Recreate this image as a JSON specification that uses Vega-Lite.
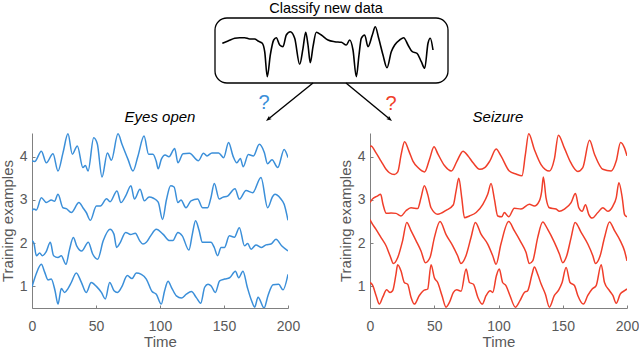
{
"$schema":"https://vega.github.io/schema/vega-lite/v6.json",
"padding":{"left":0,"top":0,"right":0,"bottom":0},
"config":{"view":{"stroke":null},"font":"Liberation Sans",
"axis":{"grid":false,"labelFlush":false,"domainColor":"#808080","tickColor":"#808080","tickSize":-3,"labelColor":"#595959","labelFont":"Liberation Sans","labelFontSize":14,"titleFont":"Liberation Sans","titleFontSize":15,"titleFontWeight":"normal","titleColor":"#595959"}},
"datasets":{
"sig":[{"x":224.3,"y":43.3},{"x":230,"y":41},{"x":236.7,"y":38.3},{"x":241.7,"y":37.7},{"x":246.7,"y":37.7},{"x":251.7,"y":39},{"x":256.7,"y":39},{"x":260,"y":41},{"x":264.3,"y":43.3},{"x":266.7,"y":51.7},{"x":269.3,"y":76.7},{"x":272.3,"y":55},{"x":275.7,"y":40},{"x":278.3,"y":37.7},{"x":281.7,"y":45},{"x":285,"y":46.7},{"x":288.3,"y":35},{"x":292.3,"y":31.7},{"x":296.7,"y":38.3},{"x":301.7,"y":64.3},{"x":305,"y":48.3},{"x":307.7,"y":32.3},{"x":310,"y":45},{"x":312.3,"y":62.7},{"x":315,"y":46.7},{"x":318.3,"y":32.3},{"x":323.3,"y":35},{"x":330,"y":40},{"x":336.7,"y":41.7},{"x":343.3,"y":42.3},{"x":348.3,"y":45},{"x":351.7,"y":40},{"x":355,"y":50},{"x":358.3,"y":76.7},{"x":361,"y":55},{"x":363.3,"y":38.3},{"x":366.7,"y":35},{"x":370,"y":46.7},{"x":374.3,"y":35},{"x":377.3,"y":26.7},{"x":380.7,"y":38.3},{"x":385,"y":55},{"x":389,"y":67.7},{"x":393.3,"y":51.7},{"x":396.7,"y":45},{"x":401.7,"y":40},{"x":405.7,"y":37.7},{"x":410,"y":45},{"x":414.3,"y":51.7},{"x":419,"y":53.3},{"x":423.3,"y":61.7},{"x":426.7,"y":68.3},{"x":430,"y":43.3},{"x":432.3,"y":38.3},{"x":435,"y":50}],
"eeg":[
{"p":"L","s":4,"t":0,"v":3.9},{"p":"L","s":4,"t":2.1,"v":3.89},{"p":"L","s":4,"t":7.3,"v":4.13},{"p":"L","s":4,"t":11.2,"v":3.86},{"p":"L","s":4,"t":16.4,"v":4.07},{"p":"L","s":4,"t":20.3,"v":3.67},{"p":"L","s":4,"t":24.2,"v":4.09},{"p":"L","s":4,"t":28.1,"v":4.53},{"p":"L","s":4,"t":31.5,"v":4.06},{"p":"L","s":4,"t":35.4,"v":4.25},{"p":"L","s":4,"t":39.8,"v":3.75},{"p":"L","s":4,"t":41.7,"v":3.8},{"p":"L","s":4,"t":43.8,"v":3.67},{"p":"L","s":4,"t":48.2,"v":4.44},{"p":"L","s":4,"t":51,"v":4.3},{"p":"L","s":4,"t":54.7,"v":3.53},{"p":"L","s":4,"t":58.9,"v":4.09},{"p":"L","s":4,"t":62,"v":3.92},{"p":"L","s":4,"t":67.2,"v":4.53},{"p":"L","s":4,"t":70.3,"v":4.29},{"p":"L","s":4,"t":75,"v":3.94},{"p":"L","s":4,"t":78.9,"v":3.67},{"p":"L","s":4,"t":82.8,"v":4.02},{"p":"L","s":4,"t":87.5,"v":4.48},{"p":"L","s":4,"t":91.1,"v":4.06},{"p":"L","s":4,"t":94.5,"v":4.06},{"p":"L","s":4,"t":97,"v":3.9},{"p":"L","s":4,"t":98.6,"v":3.72},{"p":"L","s":4,"t":101,"v":3.94},{"p":"L","s":4,"t":104,"v":4.04},{"p":"L","s":4,"t":107,"v":4.0},{"p":"L","s":4,"t":111.5,"v":4.19},{"p":"L","s":4,"t":114,"v":3.86},{"p":"L","s":4,"t":118,"v":4.07},{"p":"L","s":4,"t":123,"v":4.08},{"p":"L","s":4,"t":130,"v":3.91},{"p":"L","s":4,"t":134,"v":4.08},{"p":"L","s":4,"t":136.7,"v":4.02},{"p":"L","s":4,"t":140.6,"v":4.09},{"p":"L","s":4,"t":145.8,"v":4.09},{"p":"L","s":4,"t":149.7,"v":3.98},{"p":"L","s":4,"t":153.6,"v":4.33},{"p":"L","s":4,"t":157,"v":4.02},{"p":"L","s":4,"t":160,"v":3.86},{"p":"L","s":4,"t":162.8,"v":3.96},{"p":"L","s":4,"t":165,"v":3.77},{"p":"L","s":4,"t":169,"v":4.05},{"p":"L","s":4,"t":173,"v":4.02},{"p":"L","s":4,"t":177.6,"v":4.29},{"p":"L","s":4,"t":181.5,"v":4.1},{"p":"L","s":4,"t":184,"v":3.84},{"p":"L","s":4,"t":187.5,"v":3.93},{"p":"L","s":4,"t":192,"v":3.75},{"p":"L","s":4,"t":197,"v":4.17},{"p":"L","s":4,"t":200,"v":3.98},
{"p":"L","s":3,"t":0,"v":2.75},{"p":"L","s":3,"t":1.5,"v":2.79},{"p":"L","s":3,"t":3.4,"v":2.77},{"p":"L","s":3,"t":7.3,"v":3.05},{"p":"L","s":3,"t":11.2,"v":2.94},{"p":"L","s":3,"t":15.1,"v":3.0},{"p":"L","s":3,"t":17.6,"v":2.97},{"p":"L","s":3,"t":20.3,"v":3.13},{"p":"L","s":3,"t":24.2,"v":2.82},{"p":"L","s":3,"t":26.8,"v":2.8},{"p":"L","s":3,"t":30.7,"v":2.71},{"p":"L","s":3,"t":36.7,"v":2.94},{"p":"L","s":3,"t":39.8,"v":2.82},{"p":"L","s":3,"t":42.4,"v":2.71},{"p":"L","s":3,"t":45.6,"v":2.53},{"p":"L","s":3,"t":50.3,"v":2.86},{"p":"L","s":3,"t":53.4,"v":2.86},{"p":"L","s":3,"t":58.3,"v":3.03},{"p":"L","s":3,"t":61,"v":2.96},{"p":"L","s":3,"t":66.4,"v":3.21},{"p":"L","s":3,"t":69.5,"v":2.94},{"p":"L","s":3,"t":73.3,"v":3.1},{"p":"L","s":3,"t":77.3,"v":3.33},{"p":"L","s":3,"t":80,"v":3.02},{"p":"L","s":3,"t":84.4,"v":3.25},{"p":"L","s":3,"t":87.8,"v":2.98},{"p":"L","s":3,"t":91.5,"v":3.07},{"p":"L","s":3,"t":94.9,"v":3.04},{"p":"L","s":3,"t":98.6,"v":2.95},{"p":"L","s":3,"t":102,"v":2.55},{"p":"L","s":3,"t":105,"v":3.0},{"p":"L","s":3,"t":108.3,"v":3.33},{"p":"L","s":3,"t":111,"v":3.3},{"p":"L","s":3,"t":114,"v":2.94},{"p":"L","s":3,"t":116.4,"v":3.0},{"p":"L","s":3,"t":120.3,"v":2.82},{"p":"L","s":3,"t":124.2,"v":2.98},{"p":"L","s":3,"t":129.4,"v":3.02},{"p":"L","s":3,"t":133.3,"v":2.82},{"p":"L","s":3,"t":137.2,"v":2.82},{"p":"L","s":3,"t":139.8,"v":3.05},{"p":"L","s":3,"t":142.4,"v":3.38},{"p":"L","s":3,"t":146.3,"v":3.02},{"p":"L","s":3,"t":148.9,"v":3.06},{"p":"L","s":3,"t":152.8,"v":3.09},{"p":"L","s":3,"t":158.6,"v":3.26},{"p":"L","s":3,"t":162,"v":3.02},{"p":"L","s":3,"t":167.2,"v":3.22},{"p":"L","s":3,"t":172.4,"v":3.17},{"p":"L","s":3,"t":178.9,"v":3.52},{"p":"L","s":3,"t":184.1,"v":2.82},{"p":"L","s":3,"t":188,"v":3.08},{"p":"L","s":3,"t":189.8,"v":3.13},{"p":"L","s":3,"t":194,"v":3.04},{"p":"L","s":3,"t":197,"v":2.9},{"p":"L","s":3,"t":200,"v":2.53},
{"p":"L","s":2,"t":0,"v":2.06},{"p":"L","s":2,"t":1.5,"v":2.0},{"p":"L","s":2,"t":3.4,"v":1.71},{"p":"L","s":2,"t":6,"v":1.77},{"p":"L","s":2,"t":8.1,"v":1.71},{"p":"L","s":2,"t":11,"v":1.8},{"p":"L","s":2,"t":14.3,"v":2.02},{"p":"L","s":2,"t":16.9,"v":1.71},{"p":"L","s":2,"t":20.3,"v":1.67},{"p":"L","s":2,"t":22.9,"v":1.71},{"p":"L","s":2,"t":26.5,"v":1.51},{"p":"L","s":2,"t":29.2,"v":1.84},{"p":"L","s":2,"t":32.3,"v":2.13},{"p":"L","s":2,"t":34.9,"v":1.94},{"p":"L","s":2,"t":38.8,"v":1.82},{"p":"L","s":2,"t":44,"v":2.02},{"p":"L","s":2,"t":47.4,"v":1.75},{"p":"L","s":2,"t":51.3,"v":1.63},{"p":"L","s":2,"t":55.7,"v":2.06},{"p":"L","s":2,"t":60.9,"v":2.32},{"p":"L","s":2,"t":64,"v":2.21},{"p":"L","s":2,"t":66.1,"v":1.9},{"p":"L","s":2,"t":68.7,"v":2.0},{"p":"L","s":2,"t":73.2,"v":2.25},{"p":"L","s":2,"t":77,"v":2.2},{"p":"L","s":2,"t":80.7,"v":2.23},{"p":"L","s":2,"t":84.1,"v":2.06},{"p":"L","s":2,"t":86.7,"v":1.98},{"p":"L","s":2,"t":89.3,"v":2.02},{"p":"L","s":2,"t":92.7,"v":2.17},{"p":"L","s":2,"t":97.1,"v":2.32},{"p":"L","s":2,"t":102.3,"v":2.21},{"p":"L","s":2,"t":107.5,"v":2.06},{"p":"L","s":2,"t":110,"v":2.06},{"p":"L","s":2,"t":114,"v":2.25},{"p":"L","s":2,"t":117.4,"v":2.17},{"p":"L","s":2,"t":122.6,"v":1.84},{"p":"L","s":2,"t":125.2,"v":2.2},{"p":"L","s":2,"t":127.8,"v":2.52},{"p":"L","s":2,"t":130.5,"v":2.3},{"p":"L","s":2,"t":133.1,"v":2.02},{"p":"L","s":2,"t":137,"v":2.02},{"p":"L","s":2,"t":139.8,"v":2.02},{"p":"L","s":2,"t":142.4,"v":1.9},{"p":"L","s":2,"t":145,"v":1.71},{"p":"L","s":2,"t":147.7,"v":1.9},{"p":"L","s":2,"t":150.3,"v":1.9},{"p":"L","s":2,"t":154.2,"v":2.17},{"p":"L","s":2,"t":158.1,"v":2.14},{"p":"L","s":2,"t":162,"v":2.36},{"p":"L","s":2,"t":166,"v":1.94},{"p":"L","s":2,"t":168.5,"v":1.99},{"p":"L","s":2,"t":171.2,"v":1.86},{"p":"L","s":2,"t":175,"v":1.96},{"p":"L","s":2,"t":179,"v":1.9},{"p":"L","s":2,"t":182.8,"v":1.96},{"p":"L","s":2,"t":186.7,"v":1.98},{"p":"L","s":2,"t":190.6,"v":2.09},{"p":"L","s":2,"t":195,"v":1.94},{"p":"L","s":2,"t":200,"v":1.82},
{"p":"L","s":1,"t":0,"v":0.99},{"p":"L","s":1,"t":3.4,"v":1.3},{"p":"L","s":1,"t":7.3,"v":1.51},{"p":"L","s":1,"t":9.9,"v":1.33},{"p":"L","s":1,"t":12.5,"v":1.15},{"p":"L","s":1,"t":15,"v":1.17},{"p":"L","s":1,"t":18,"v":0.9},{"p":"L","s":1,"t":20.3,"v":0.59},{"p":"L","s":1,"t":22.9,"v":0.95},{"p":"L","s":1,"t":25.5,"v":0.86},{"p":"L","s":1,"t":28.1,"v":0.95},{"p":"L","s":1,"t":30.7,"v":1.09},{"p":"L","s":1,"t":34.6,"v":1.31},{"p":"L","s":1,"t":38.5,"v":1.1},{"p":"L","s":1,"t":42.4,"v":0.86},{"p":"L","s":1,"t":46.3,"v":1.09},{"p":"L","s":1,"t":50.3,"v":1.0},{"p":"L","s":1,"t":54.2,"v":0.86},{"p":"L","s":1,"t":57.3,"v":0.71},{"p":"L","s":1,"t":60.7,"v":1.09},{"p":"L","s":1,"t":64.1,"v":0.9},{"p":"L","s":1,"t":66.7,"v":0.86},{"p":"L","s":1,"t":69.8,"v":0.97},{"p":"L","s":1,"t":74.5,"v":1.25},{"p":"L","s":1,"t":78.1,"v":1.18},{"p":"L","s":1,"t":81.5,"v":1.31},{"p":"L","s":1,"t":85.4,"v":1.28},{"p":"L","s":1,"t":89.3,"v":1.17},{"p":"L","s":1,"t":93.8,"v":0.88},{"p":"L","s":1,"t":97.1,"v":0.82},{"p":"L","s":1,"t":101,"v":0.59},{"p":"L","s":1,"t":103.6,"v":0.9},{"p":"L","s":1,"t":106.3,"v":1.12},{"p":"L","s":1,"t":108.9,"v":0.98},{"p":"L","s":1,"t":112.8,"v":0.78},{"p":"L","s":1,"t":116.7,"v":0.73},{"p":"L","s":1,"t":120.6,"v":0.82},{"p":"L","s":1,"t":124.5,"v":0.88},{"p":"L","s":1,"t":128.4,"v":0.74},{"p":"L","s":1,"t":131.8,"v":0.61},{"p":"L","s":1,"t":134.9,"v":0.98},{"p":"L","s":1,"t":137.5,"v":1.05},{"p":"L","s":1,"t":140,"v":1.01},{"p":"L","s":1,"t":143.2,"v":0.86},{"p":"L","s":1,"t":146.6,"v":1.13},{"p":"L","s":1,"t":150.5,"v":1.17},{"p":"L","s":1,"t":154.4,"v":1.2},{"p":"L","s":1,"t":158.9,"v":1.35},{"p":"L","s":1,"t":161.5,"v":1.2},{"p":"L","s":1,"t":164.8,"v":1.35},{"p":"L","s":1,"t":168.2,"v":0.98},{"p":"L","s":1,"t":171.4,"v":0.68},{"p":"L","s":1,"t":174,"v":0.52},{"p":"L","s":1,"t":176.6,"v":0.75},{"p":"L","s":1,"t":181.3,"v":0.5},{"p":"L","s":1,"t":184.4,"v":0.79},{"p":"L","s":1,"t":188.3,"v":1.04},{"p":"L","s":1,"t":192.7,"v":1.05},{"p":"L","s":1,"t":196.1,"v":0.92},{"p":"L","s":1,"t":200,"v":1.28},
{"p":"R","s":4,"t":0,"v":4.22},{"p":"R","s":4,"t":0.8,"v":4.25},{"p":"R","s":4,"t":4.7,"v":4.09},{"p":"R","s":4,"t":8.6,"v":3.9},{"p":"R","s":4,"t":12.5,"v":3.71},{"p":"R","s":4,"t":15.1,"v":3.63},{"p":"R","s":4,"t":19,"v":3.59},{"p":"R","s":4,"t":21.6,"v":3.65},{"p":"R","s":4,"t":24.3,"v":4.06},{"p":"R","s":4,"t":26.9,"v":4.35},{"p":"R","s":4,"t":30.3,"v":4.13},{"p":"R","s":4,"t":33.4,"v":3.9},{"p":"R","s":4,"t":37.3,"v":3.75},{"p":"R","s":4,"t":42.5,"v":3.65},{"p":"R","s":4,"t":46.4,"v":3.95},{"p":"R","s":4,"t":49.8,"v":4.23},{"p":"R","s":4,"t":52.9,"v":4.06},{"p":"R","s":4,"t":58.1,"v":3.79},{"p":"R","s":4,"t":63.3,"v":3.67},{"p":"R","s":4,"t":67.7,"v":3.9},{"p":"R","s":4,"t":72.4,"v":4.13},{"p":"R","s":4,"t":76.3,"v":4.02},{"p":"R","s":4,"t":80.2,"v":3.86},{"p":"R","s":4,"t":85.4,"v":3.71},{"p":"R","s":4,"t":89.3,"v":3.75},{"p":"R","s":4,"t":93.2,"v":3.9},{"p":"R","s":4,"t":98.2,"v":4.18},{"p":"R","s":4,"t":101.9,"v":4.02},{"p":"R","s":4,"t":108.4,"v":3.67},{"p":"R","s":4,"t":113.6,"v":3.6},{"p":"R","s":4,"t":118.3,"v":3.56},{"p":"R","s":4,"t":120.9,"v":4.05},{"p":"R","s":4,"t":123.5,"v":4.53},{"p":"R","s":4,"t":127.9,"v":4.17},{"p":"R","s":4,"t":133.1,"v":3.82},{"p":"R","s":4,"t":139.6,"v":3.67},{"p":"R","s":4,"t":143.5,"v":3.95},{"p":"R","s":4,"t":146.6,"v":4.5},{"p":"R","s":4,"t":151.3,"v":4.2},{"p":"R","s":4,"t":156.5,"v":3.85},{"p":"R","s":4,"t":161.7,"v":3.66},{"p":"R","s":4,"t":165.6,"v":3.75},{"p":"R","s":4,"t":170.8,"v":4.38},{"p":"R","s":4,"t":174.7,"v":4.06},{"p":"R","s":4,"t":181.2,"v":3.71},{"p":"R","s":4,"t":187.7,"v":3.67},{"p":"R","s":4,"t":191.6,"v":3.9},{"p":"R","s":4,"t":195,"v":4.33},{"p":"R","s":4,"t":198.1,"v":4.2},{"p":"R","s":4,"t":200,"v":4.02},
{"p":"R","s":3,"t":0,"v":2.94},{"p":"R","s":3,"t":1.8,"v":3.02},{"p":"R","s":3,"t":5.7,"v":3.09},{"p":"R","s":3,"t":8.3,"v":3.13},{"p":"R","s":3,"t":10.1,"v":2.9},{"p":"R","s":3,"t":12.7,"v":2.69},{"p":"R","s":3,"t":16.4,"v":2.7},{"p":"R","s":3,"t":20.2,"v":2.69},{"p":"R","s":3,"t":24.1,"v":2.63},{"p":"R","s":3,"t":28,"v":2.75},{"p":"R","s":3,"t":31.9,"v":2.82},{"p":"R","s":3,"t":37.1,"v":2.8},{"p":"R","s":3,"t":39.7,"v":3.05},{"p":"R","s":3,"t":42.3,"v":3.33},{"p":"R","s":3,"t":44.9,"v":3.13},{"p":"R","s":3,"t":47.5,"v":2.82},{"p":"R","s":3,"t":52.7,"v":2.67},{"p":"R","s":3,"t":59.2,"v":2.76},{"p":"R","s":3,"t":64.9,"v":2.89},{"p":"R","s":3,"t":67,"v":3.21},{"p":"R","s":3,"t":69.1,"v":3.5},{"p":"R","s":3,"t":71.4,"v":3.05},{"p":"R","s":3,"t":73.5,"v":2.59},{"p":"R","s":3,"t":77.4,"v":2.63},{"p":"R","s":3,"t":82.6,"v":2.71},{"p":"R","s":3,"t":87.8,"v":2.9},{"p":"R","s":3,"t":91.6,"v":3.13},{"p":"R","s":3,"t":94.2,"v":3.38},{"p":"R","s":3,"t":96.8,"v":3.02},{"p":"R","s":3,"t":99.4,"v":2.63},{"p":"R","s":3,"t":102.5,"v":2.61},{"p":"R","s":3,"t":104.5,"v":2.71},{"p":"R","s":3,"t":107.9,"v":2.61},{"p":"R","s":3,"t":112.3,"v":2.81},{"p":"R","s":3,"t":117.5,"v":2.79},{"p":"R","s":3,"t":124,"v":2.9},{"p":"R","s":3,"t":127.9,"v":2.86},{"p":"R","s":3,"t":131.8,"v":2.98},{"p":"R","s":3,"t":133.6,"v":3.2},{"p":"R","s":3,"t":134.9,"v":3.53},{"p":"R","s":3,"t":137,"v":3.05},{"p":"R","s":3,"t":139.6,"v":2.82},{"p":"R","s":3,"t":144.8,"v":2.79},{"p":"R","s":3,"t":147.4,"v":2.74},{"p":"R","s":3,"t":151.3,"v":2.79},{"p":"R","s":3,"t":156.5,"v":2.94},{"p":"R","s":3,"t":159.9,"v":3.15},{"p":"R","s":3,"t":162.5,"v":2.82},{"p":"R","s":3,"t":165.1,"v":2.74},{"p":"R","s":3,"t":167.7,"v":2.89},{"p":"R","s":3,"t":170.3,"v":2.66},{"p":"R","s":3,"t":172.9,"v":2.58},{"p":"R","s":3,"t":177.3,"v":2.71},{"p":"R","s":3,"t":181.2,"v":2.82},{"p":"R","s":3,"t":185.1,"v":2.74},{"p":"R","s":3,"t":189,"v":2.86},{"p":"R","s":3,"t":191.6,"v":3.05},{"p":"R","s":3,"t":193.7,"v":3.4},{"p":"R","s":3,"t":196.3,"v":3.05},{"p":"R","s":3,"t":198.1,"v":2.66},{"p":"R","s":3,"t":200,"v":2.61},
{"p":"R","s":2,"t":0,"v":2.55},{"p":"R","s":2,"t":0.8,"v":2.5},{"p":"R","s":2,"t":4.7,"v":2.32},{"p":"R","s":2,"t":8.6,"v":2.13},{"p":"R","s":2,"t":12.5,"v":1.94},{"p":"R","s":2,"t":15.6,"v":1.71},{"p":"R","s":2,"t":18.2,"v":1.53},{"p":"R","s":2,"t":21.6,"v":1.67},{"p":"R","s":2,"t":25.4,"v":2.06},{"p":"R","s":2,"t":28.6,"v":2.48},{"p":"R","s":2,"t":31.9,"v":2.29},{"p":"R","s":2,"t":35.8,"v":2.06},{"p":"R","s":2,"t":39.7,"v":1.82},{"p":"R","s":2,"t":43.1,"v":1.55},{"p":"R","s":2,"t":46.7,"v":1.67},{"p":"R","s":2,"t":50.1,"v":2.13},{"p":"R","s":2,"t":54.5,"v":2.5},{"p":"R","s":2,"t":59.2,"v":2.2},{"p":"R","s":2,"t":64.4,"v":1.94},{"p":"R","s":2,"t":68.2,"v":1.71},{"p":"R","s":2,"t":70.8,"v":1.53},{"p":"R","s":2,"t":74.7,"v":1.71},{"p":"R","s":2,"t":78.6,"v":2.13},{"p":"R","s":2,"t":82,"v":2.48},{"p":"R","s":2,"t":86.4,"v":2.21},{"p":"R","s":2,"t":91.6,"v":1.98},{"p":"R","s":2,"t":95.5,"v":1.71},{"p":"R","s":2,"t":98.1,"v":1.51},{"p":"R","s":2,"t":101.9,"v":1.98},{"p":"R","s":2,"t":107.9,"v":2.5},{"p":"R","s":2,"t":112.3,"v":2.29},{"p":"R","s":2,"t":117.5,"v":2.02},{"p":"R","s":2,"t":121.4,"v":1.79},{"p":"R","s":2,"t":124,"v":1.53},{"p":"R","s":2,"t":126.6,"v":1.59},{"p":"R","s":2,"t":130.5,"v":2.13},{"p":"R","s":2,"t":134.4,"v":2.49},{"p":"R","s":2,"t":138.3,"v":2.32},{"p":"R","s":2,"t":143.5,"v":2.02},{"p":"R","s":2,"t":147.4,"v":1.75},{"p":"R","s":2,"t":150,"v":1.55},{"p":"R","s":2,"t":153.1,"v":1.71},{"p":"R","s":2,"t":156.5,"v":2.13},{"p":"R","s":2,"t":159.6,"v":2.48},{"p":"R","s":2,"t":164.3,"v":2.25},{"p":"R","s":2,"t":169.5,"v":1.98},{"p":"R","s":2,"t":173.4,"v":1.71},{"p":"R","s":2,"t":175.5,"v":1.53},{"p":"R","s":2,"t":179.1,"v":1.71},{"p":"R","s":2,"t":182.5,"v":2.13},{"p":"R","s":2,"t":186.4,"v":2.49},{"p":"R","s":2,"t":190.3,"v":2.29},{"p":"R","s":2,"t":194.7,"v":2.06},{"p":"R","s":2,"t":198.1,"v":1.82},{"p":"R","s":2,"t":200,"v":1.59},
{"p":"R","s":1,"t":0,"v":1.09},{"p":"R","s":1,"t":2,"v":1.03},{"p":"R","s":1,"t":4.7,"v":0.79},{"p":"R","s":1,"t":7.3,"v":0.59},{"p":"R","s":1,"t":9.9,"v":0.75},{"p":"R","s":1,"t":13,"v":0.92},{"p":"R","s":1,"t":15.6,"v":0.86},{"p":"R","s":1,"t":17.6,"v":0.9},{"p":"R","s":1,"t":20.2,"v":1.28},{"p":"R","s":1,"t":21.5,"v":1.5},{"p":"R","s":1,"t":24.1,"v":1.36},{"p":"R","s":1,"t":26.7,"v":1.09},{"p":"R","s":1,"t":29.3,"v":1.05},{"p":"R","s":1,"t":31.9,"v":0.75},{"p":"R","s":1,"t":34.5,"v":0.59},{"p":"R","s":1,"t":38.4,"v":0.79},{"p":"R","s":1,"t":41.5,"v":0.9},{"p":"R","s":1,"t":44.9,"v":0.94},{"p":"R","s":1,"t":47.5,"v":1.5},{"p":"R","s":1,"t":50.1,"v":1.2},{"p":"R","s":1,"t":52.7,"v":1.09},{"p":"R","s":1,"t":56,"v":0.79},{"p":"R","s":1,"t":59.2,"v":0.52},{"p":"R","s":1,"t":61.8,"v":0.63},{"p":"R","s":1,"t":64.9,"v":0.86},{"p":"R","s":1,"t":67.5,"v":0.92},{"p":"R","s":1,"t":70.9,"v":0.89},{"p":"R","s":1,"t":74.8,"v":1.4},{"p":"R","s":1,"t":77.4,"v":1.09},{"p":"R","s":1,"t":80.5,"v":1.05},{"p":"R","s":1,"t":83.9,"v":0.75},{"p":"R","s":1,"t":87.3,"v":0.59},{"p":"R","s":1,"t":90.4,"v":0.79},{"p":"R","s":1,"t":93.5,"v":0.9},{"p":"R","s":1,"t":95.5,"v":0.86},{"p":"R","s":1,"t":98.4,"v":1.25},{"p":"R","s":1,"t":100.6,"v":1.4},{"p":"R","s":1,"t":103.2,"v":1.09},{"p":"R","s":1,"t":105.8,"v":1.02},{"p":"R","s":1,"t":108.9,"v":0.79},{"p":"R","s":1,"t":113.1,"v":0.52},{"p":"R","s":1,"t":116.7,"v":0.67},{"p":"R","s":1,"t":120.1,"v":0.86},{"p":"R","s":1,"t":122.7,"v":0.9},{"p":"R","s":1,"t":126.1,"v":1.28},{"p":"R","s":1,"t":127.9,"v":1.45},{"p":"R","s":1,"t":130.5,"v":1.28},{"p":"R","s":1,"t":133.1,"v":1.06},{"p":"R","s":1,"t":136.5,"v":0.82},{"p":"R","s":1,"t":139.6,"v":0.52},{"p":"R","s":1,"t":143.5,"v":0.79},{"p":"R","s":1,"t":146.9,"v":0.92},{"p":"R","s":1,"t":149.5,"v":1.09},{"p":"R","s":1,"t":152.6,"v":1.44},{"p":"R","s":1,"t":155.7,"v":1.09},{"p":"R","s":1,"t":159.1,"v":1.02},{"p":"R","s":1,"t":161.7,"v":0.79},{"p":"R","s":1,"t":166.1,"v":0.59},{"p":"R","s":1,"t":169.5,"v":0.79},{"p":"R","s":1,"t":172.9,"v":0.94},{"p":"R","s":1,"t":176,"v":1.02},{"p":"R","s":1,"t":179.9,"v":1.5},{"p":"R","s":1,"t":182.5,"v":1.09},{"p":"R","s":1,"t":186.4,"v":0.9},{"p":"R","s":1,"t":189,"v":0.79},{"p":"R","s":1,"t":191.6,"v":0.61},{"p":"R","s":1,"t":194.7,"v":0.82},{"p":"R","s":1,"t":198.1,"v":0.9},{"p":"R","s":1,"t":200,"v":0.94}
]},
"spacing":8,
"vconcat":[
{"width":606,"height":125,
"layer":[
{"data":{"values":[{"x":217,"x2":450,"y":18,"y2":83}]},
"mark":{"type":"rect","cornerRadius":12,"fill":"white","fillOpacity":0,"stroke":"black","strokeWidth":1.3},
"encoding":{"x":{"field":"x","type":"quantitative","scale":{"domain":[34,640],"nice":false,"zero":false},"axis":null},"x2":{"field":"x2"},"y":{"field":"y","type":"quantitative","scale":{"domain":[0,125],"reverse":true,"nice":false,"zero":false},"axis":null},"y2":{"field":"y2"}}},
{"data":{"name":"sig"},
"mark":{"type":"line","color":"black","strokeWidth":1.6,"interpolate":"monotone"},
"encoding":{"x":{"field":"x","type":"quantitative"},"y":{"field":"y","type":"quantitative"}}},
{"data":{"values":[{"x":315,"y":83,"x2":271,"y2":118.5},{"x":348,"y":83,"x2":391,"y2":118.5}]},
"mark":{"type":"rule","color":"black","strokeWidth":1.4},
"encoding":{"x":{"field":"x","type":"quantitative"},"y":{"field":"y","type":"quantitative"},"x2":{"field":"x2"},"y2":{"field":"y2"}}},
{"data":{"values":[{"x":268,"y":121,"a":231},{"x":394,"y":121,"a":129}]},
"mark":{"type":"point","shape":"M0,0L0.7,1.9L0,1.45L-0.7,1.9Z","filled":true,"color":"black","opacity":1,"size":36},
"encoding":{"x":{"field":"x","type":"quantitative"},"y":{"field":"y","type":"quantitative"},"angle":{"field":"a","type":"quantitative","scale":null}}},
{"data":{"values":[{"x":328,"y":9,"label":"Classify new data"}]},
"mark":{"type":"text","fontSize":14.5,"color":"black","align":"center","baseline":"middle","font":"Liberation Sans"},
"encoding":{"x":{"field":"x","type":"quantitative"},"y":{"field":"y","type":"quantitative"},"text":{"field":"label"}}},
{"data":{"values":[{"x":162,"y":117,"label":"Eyes open"},{"x":500,"y":117,"label":"Seizure"}]},
"mark":{"type":"text","fontSize":15,"fontStyle":"italic","color":"black","align":"center","baseline":"middle","font":"Liberation Sans"},
"encoding":{"x":{"field":"x","type":"quantitative"},"y":{"field":"y","type":"quantitative"},"text":{"field":"label"}}},
{"data":{"values":[{"x":266,"y":103,"label":"?","c":"b"},{"x":393,"y":104,"label":"?","c":"r"}]},
"mark":{"type":"text","fontSize":20,"align":"center","baseline":"middle","font":"Liberation Sans"},
"encoding":{"x":{"field":"x","type":"quantitative"},"y":{"field":"y","type":"quantitative"},"text":{"field":"label"},"color":{"field":"c","type":"nominal","scale":{"domain":["b","r"],"range":["#3b8fd9","#f03e2a"]},"legend":null}}}
]},
{"spacing":38,
"hconcat":[
{"width":256,"height":175,"data":{"name":"eeg"},"transform":[{"filter":"datum.p=='L'"}],
"mark":{"type":"line","color":"#3b8fd9","strokeWidth":1.5,"interpolate":"monotone","clip":true},
"encoding":{"x":{"field":"t","type":"quantitative","title":"Time","scale":{"domain":[0,200],"nice":false},"axis":{"values":[0,50,100,150,200],"labelPadding":14,"titlePadding":1}},
"y":{"field":"v","type":"quantitative","title":"Training examples","scale":{"domain":[0.5,4.55],"nice":false,"zero":false},"axis":{"values":[1,2,3,4],"labelPadding":8,"titlePadding":4}},
"detail":{"field":"s","type":"nominal"}}},
{"width":257,"height":175,"data":{"name":"eeg"},"transform":[{"filter":"datum.p=='R'"}],
"mark":{"type":"line","color":"#f03e2a","strokeWidth":1.5,"interpolate":"monotone","clip":true},
"encoding":{"x":{"field":"t","type":"quantitative","title":"Time","scale":{"domain":[0,200],"nice":false},"axis":{"values":[0,50,100,150,200],"labelPadding":14,"titlePadding":1}},
"y":{"field":"v","type":"quantitative","title":"Training examples","scale":{"domain":[0.5,4.55],"nice":false,"zero":false},"axis":{"values":[1,2,3,4],"labelPadding":8,"titlePadding":4}},
"detail":{"field":"s","type":"nominal"}}}
]}
]}
